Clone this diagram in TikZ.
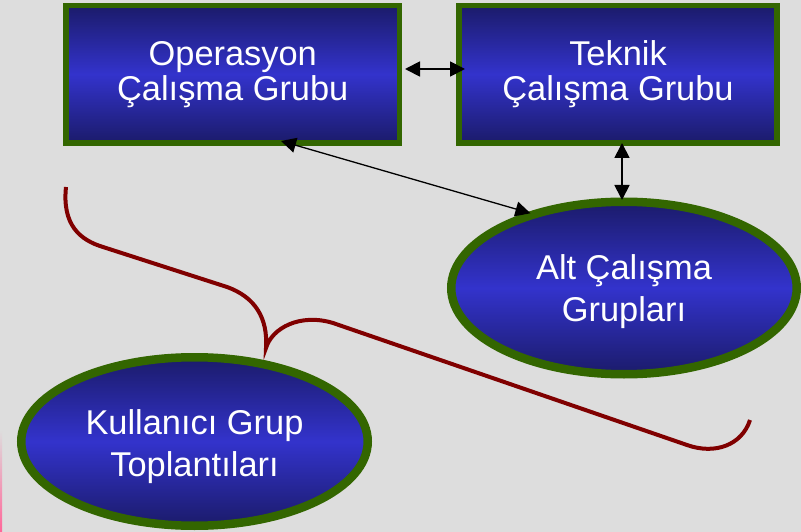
\documentclass[tikz,border=0pt]{standalone}
\usepackage{fontspec}
\setmainfont{Liberation Sans}
\usetikzlibrary{arrows.meta,shapes.geometric}
\definecolor{bg}{RGB}{221,221,221}
\definecolor{navy}{RGB}{27,27,106}
\definecolor{midblue}{RGB}{51,51,204}
\definecolor{bordergreen}{RGB}{51,102,0}
\definecolor{bracered}{RGB}{128,0,0}
\definecolor{pinkedge}{RGB}{255,102,153}
\begin{document}
\begin{tikzpicture}[x=1pt,y=-1pt,
  fillgrad/.style={top color=navy, bottom color=navy, middle color=midblue},
  box/.style={rectangle, draw=bordergreen, line width=5.5pt, fillgrad, inner sep=0pt},
  oval/.style={ellipse, draw=bordergreen, line width=8.5pt, fillgrad, inner sep=0pt},
  boxtxt/.style={text=white, align=center, font=\fontsize{34.4}{35}\selectfont},
  ovaltxt/.style={text=white, align=center, font=\fontsize{34.4}{42}\selectfont},
  tipstyle/.style={line width=#1, {Triangle[length=15pt,width=15pt]}-{Triangle[length=15pt,width=15pt]}},
  bracestyle/.style={draw=bracered, line width=4pt},
]
\useasboundingbox (0,0) rectangle (801,532);
\fill[bg] (0,0) rectangle (801,532);
\shade[top color=bg, bottom color=pinkedge] (0,430) rectangle (2,532);

\node[box, boxtxt, minimum width=333.5pt, minimum height=137.5pt] (op) at (232.75,74.25) {Operasyon\\Çalışma Grubu};
\node[box, boxtxt, minimum width=318pt, minimum height=137.5pt] (tek) at (618,74.25) {Teknik\\Çalışma Grubu};
\node[oval, minimum width=345.5pt, minimum height=172.5pt,
  label={[ovaltxt, yshift=-4pt]center:Alt Çalışma\\Grupları}] (alt) at (624,288) {};
\node[oval, minimum width=346.5pt, minimum height=168.5pt,
  label={[ovaltxt, yshift=-5.5pt]center:Kullanıcı Grup\\Toplantıları}] (kul) at (194.5,441.5) {};

\draw[tipstyle=1.8pt, shorten <=2.75pt, shorten >=-8.75pt] ([yshift=5.25pt]op.east) -- ([yshift=5.25pt]tek.west);
\draw[tipstyle=1.8pt, shorten <=-2.75pt, shorten >=-2.5pt] ([xshift=4pt]tek.south) -- ([xshift=4pt]tek.south |- alt.north);
\draw[tipstyle=1.3pt, shorten >=-3.5pt] ([xshift=48.25pt, yshift=4.75pt]op.south) -- (alt.142.75);

\draw[bracestyle] (66,187) .. controls (62,225) and (80,240) .. (103,247) -- (227,287)
  .. controls (255,297) and (268,318) .. (266,348)
  .. controls (272,328) and (300,313) .. (333,323) -- (687,445)
  .. controls (715,455) and (742,445) .. (750,420);
\end{tikzpicture}
\end{document}
